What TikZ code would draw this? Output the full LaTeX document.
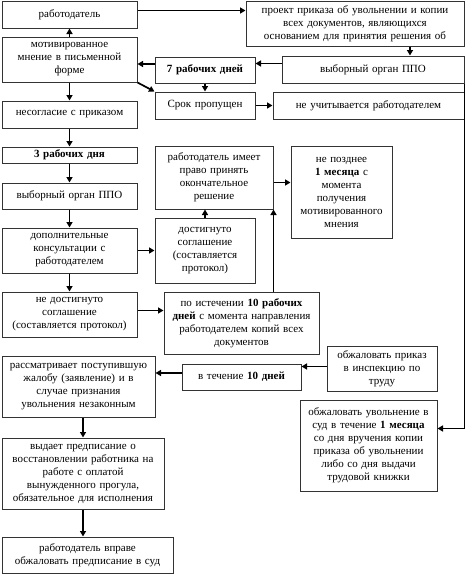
\documentclass[tikz,border=0pt]{standalone}
\usepackage{fontspec}
\setmainfont{Liberation Serif}
\usetikzlibrary{arrows.meta}
\tikzset{
  box/.style={draw=black!80, line width=1pt, rectangle, align=center,
    inner xsep=3pt, inner ysep=1pt, font=\fontsize{11}{13}\selectfont},
  arr/.style={draw=black, line width=1.7pt, -{Triangle[length=5.5pt,width=6pt]}},
  plain/.style={draw=black, line width=1.7pt}
}
\newcommand\bx[6]{%
  \pgfmathsetmacro\mybw{#4-#2}\pgfmathsetmacro\mybh{#5-#3}\pgfmathsetmacro\mytw{#4-#2-6}%
  \node[box, minimum width=\mybw pt, minimum height=\mybh pt, text width=\mytw pt] (#1) at ({(#2+#4)/2},{(#3+#5)/2}) {#6};}
\begin{document}
\begin{tikzpicture}[x=1pt,y=-1pt]
\useasboundingbox (0,0) rectangle (474,584);
\bx{rab}{2}{1}{137}{28}{работодатель}
\bx{proj}{246}{1}{464}{46}{проект приказа об увольнении и копии\\ всех документов, являющихся\\ основанием для принятия решения об}
\bx{mot}{2}{37}{137}{82}{мотивированное\\ мнение в письменной\\ форме}
\bx{d7}{155}{57}{255}{83}{\textbf{7 рабочих дней}}
\bx{vybR}{282}{56}{464}{83}{выборный орган ППО}
\bx{srok}{155}{92}{255}{119}{Срок пропущен}
\bx{neuch}{273}{92}{464}{119}{не учитывается работодателем}
\bx{nesogl}{2}{101}{137}{128}{несогласие с приказом}
\bx{d3}{2}{147}{137}{163}{\textbf{3 рабочих дня}}
\bx{vybL}{2}{183}{137}{209}{выборный орган ППО}
\bx{dop}{2}{228}{137}{273}{дополнительные\\ консультации с\\ работодателем}
\bx{rim}{155}{146}{273}{209}{работодатель имеет\\ право принять\\ окончательное\\ решение}
\bx{npozd}{291}{146}{392}{238}{не позднее\\ \textbf{1 месяца} с\\ момента\\ получения\\ мотивированного\\ мнения}
\bx{dost}{155}{218}{255}{283}{достигнуто\\ соглашение\\ (составляется\\ протокол)}
\bx{nedost}{2}{292}{137}{337}{не достигнуто\\ соглашение\\ (составляется протокол)}
\bx{poist}{164}{292}{319}{354}{по истечении \textbf{10 рабочих}\\ \textbf{дней} с момента направления\\ работодателем копий всех\\ документов}
\bx{rass}{2}{356}{155}{417}{рассматривает поступившую\\ жалобу (заявление) и в\\ случае признания\\ увольнения незаконным}
\bx{vtech}{182}{364}{301}{390}{в течение \textbf{10 дней}}
\bx{obzhP}{327}{346}{437}{391}{обжаловать приказ\\ в инспекцию по\\ труду}
\bx{obzhU}{300}{400}{437}{491}{обжаловать увольнение в\\ суд в течение \textbf{1 месяца}\\ со дня вручения копии\\ приказа об увольнении\\ либо со дня выдачи\\ трудовой книжки}
\bx{vyd}{2}{438}{164}{509}{выдает предписание о\\ восстановлении работника на\\ работе с оплатой\\ вынужденного прогула,\\ обязательное для исполнения}
\bx{rabv}{2}{537}{173}{573}{работодатель вправе\\ обжаловать предписание в суд}
% connectors
\draw[arr] ([yshift=4pt]rab.east) -- ([yshift=4pt]rab.east -| proj.west);
\draw[arr] (mot.north) -- (rab.south);
\draw[arr] ([xshift=55pt]proj.south) -- ([xshift=55pt]proj.south |- vybR.north);
\draw[arr] ([yshift=6pt]vybR.west) -- ([yshift=6pt]vybR.west -| d7.east);
\draw[arr] ([yshift=6pt]d7.west) -- ([yshift=6pt]d7.west -| mot.east);
\draw[arr] (d7.south) -- (srok.north);
\draw[arr] (mot.south east) -- (srok.north west);
\draw[arr] (srok.east) -- (neuch.west);
\draw[arr] (mot.south) -- (nesogl.north);
\draw[arr] (nesogl.south) -- (d3.north);
\draw[arr] (d3.south) -- (vybL.north);
\draw[arr] (vybL.south) -- (dop.north);
\draw[arr] (dop.south) -- (nedost.north);
\draw[arr] (dop.east) -- (dop.east -| dost.west);
\draw[arr] (dost.north) -- (dost.north |- rim.south);
\draw[arr] ([yshift=-5pt]rim.east) -- ([yshift=-5pt]rim.east -| npozd.west);
\draw[arr] (rim.south east |- poist.north) -- (rim.south east);
\draw[arr] ([yshift=4pt]nedost.east) -- ([yshift=4pt]nedost.east -| poist.west);
\draw[arr] ([yshift=4pt]vtech.west) -- ([yshift=4pt]vtech.west -| rass.east);
\draw[arr] ([yshift=2pt]obzhP.west) -- ([yshift=2pt]obzhP.west -| vtech.east);
\draw[arr] (vyd.north |- rass.south) -- (vyd.north);
\draw[arr] (vyd.south) -- (vyd.south |- rabv.north);
\draw[arr] (vybR.south east) |- ([yshift=17pt]obzhU.east);
\end{tikzpicture}
\end{document}
